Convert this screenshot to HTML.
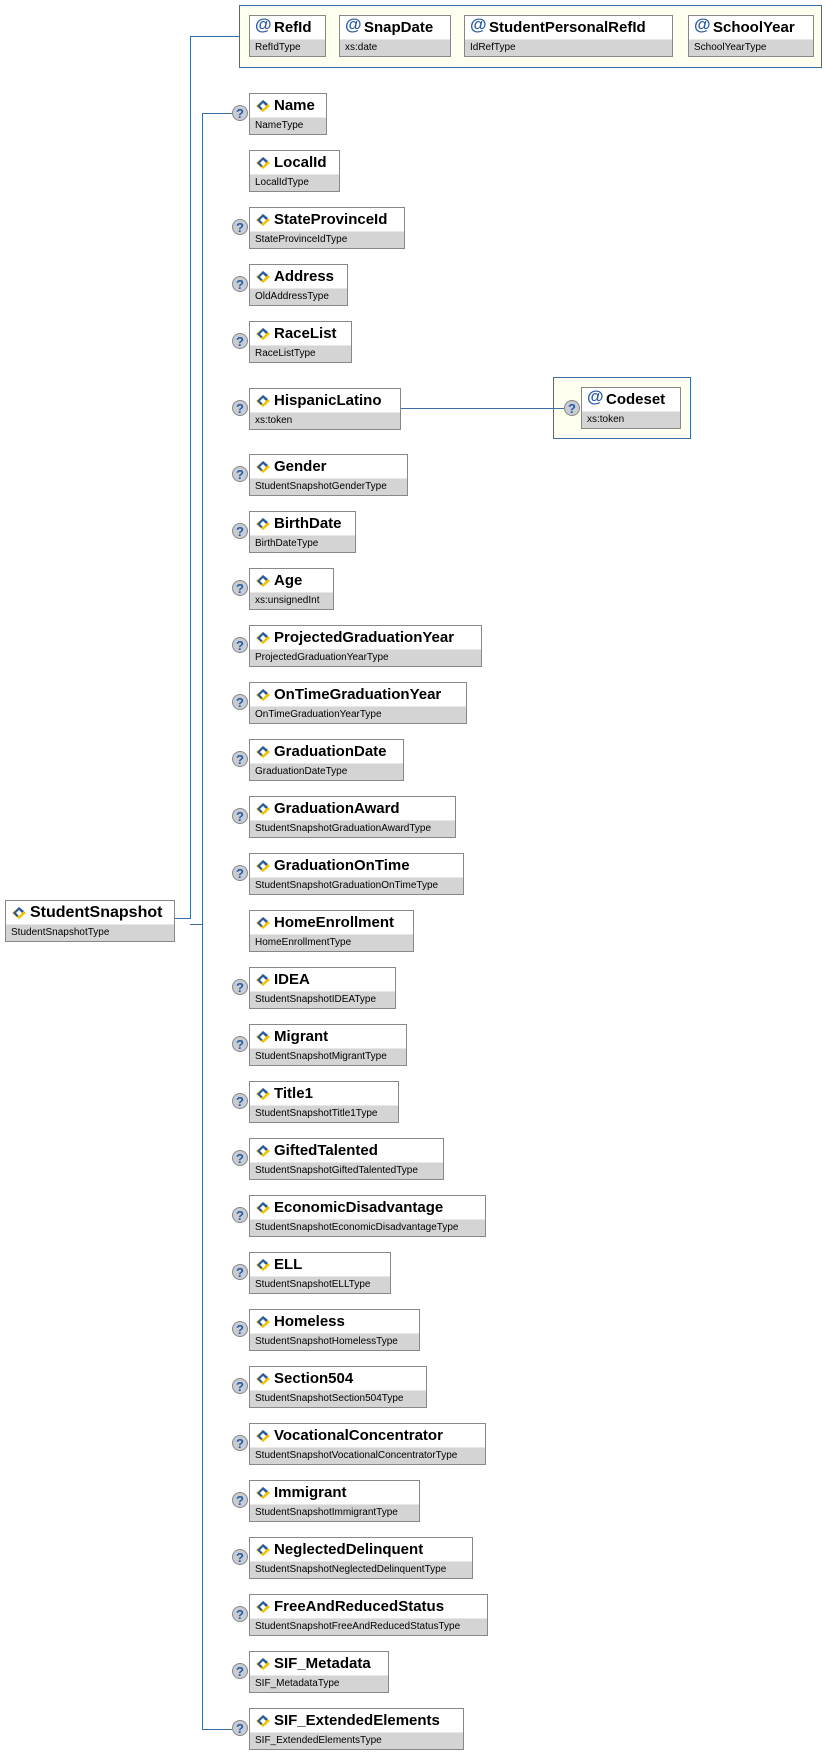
<!DOCTYPE html>
<html><head><meta charset="utf-8"><style>
body{margin:0;width:825px;height:1755px;background:#fff;position:relative;font-family:"Liberation Sans",Arial,sans-serif;overflow:hidden}
.b{position:absolute;height:41px;border:1px solid #888;background:#fff;box-sizing:border-box}
.b .h{height:24px;padding-left:24px;font-weight:bold;font-size:15px;line-height:24px;white-space:nowrap;position:relative}
.b .t{position:absolute;left:0;right:0;bottom:0;height:16px;background:#d4d4d4;font-size:10px;line-height:16px;padding-left:5px;white-space:nowrap;border-top:1px solid #e8e8e8}
.ic{position:absolute;left:6px;top:6px;width:14px;height:12px}
.at{position:absolute;left:5px;top:-3px;color:#2a5aa0;font-size:17px;font-weight:bold}
.q{position:absolute;width:16px;height:16px;border-radius:50%;background:#c8ccd4;border:1px solid #888;box-sizing:border-box;color:#2a5aa0;font-weight:bold;font-size:13px;line-height:15px;text-align:center}
.ln{position:absolute;background:#3a6ea5}
.grp{position:absolute;border:1px solid #3a6ea5;background:#fffff0;box-sizing:border-box}
</style></head><body>
<svg width="0" height="0" style="position:absolute"><defs><g id="ic"><polygon points="7,0 14,6 7,12 0,6" fill="#f2c200"/><polygon points="7,0 12,4 5,10 1,6" fill="#2a5aa0"/><polygon points="7,3 10,6 7,9 4,6" fill="#fff"/></g></defs></svg>

<div class="grp" style="left:239px;top:5px;width:583px;height:63px"></div>
<div class="grp" style="left:553px;top:377px;width:138px;height:62px"></div>

<div class="ln" style="left:175px;top:918px;width:15px;height:1px"></div>
<div class="ln" style="left:190px;top:36px;width:1px;height:883px"></div>
<div class="ln" style="left:190px;top:36px;width:49px;height:1px"></div>
<div class="ln" style="left:190px;top:924px;width:12px;height:1px"></div>
<div class="ln" style="left:202px;top:113px;width:1px;height:1616px"></div>
<div class="ln" style="left:202px;top:113px;width:30px;height:1px"></div>
<div class="ln" style="left:202px;top:1729px;width:30px;height:1px"></div>
<div class="ln" style="left:401px;top:408px;width:163px;height:1px"></div>

<div class="b" style="left:5px;top:900px;width:170px;height:42px"><div class="h" style="font-size:16px"><svg class="ic" viewBox="0 0 14 12"><use href="#ic"/></svg>StudentSnapshot</div><div class="t">StudentSnapshotType</div></div>

<div class="b" style="left:249px;top:15px;width:77px;height:42px"><div class="h"><span class="at">@</span>RefId</div><div class="t">RefIdType</div></div>
<div class="b" style="left:339px;top:15px;width:112px;height:42px"><div class="h"><span class="at">@</span>SnapDate</div><div class="t">xs:date</div></div>
<div class="b" style="left:464px;top:15px;width:209px;height:42px"><div class="h"><span class="at">@</span>StudentPersonalRefId</div><div class="t">IdRefType</div></div>
<div class="b" style="left:688px;top:15px;width:126px;height:42px"><div class="h"><span class="at">@</span>SchoolYear</div><div class="t">SchoolYearType</div></div>
<div class="b" style="left:581px;top:387px;width:100px;height:42px"><div class="h"><span class="at">@</span>Codeset</div><div class="t">xs:token</div></div>
<div class="q" style="left:564px;top:400px">?</div>

<div id="els"></div>
<script>
var E=[["Name","NameType",327,1],["LocalId","LocalIdType",340,0],["StateProvinceId","StateProvinceIdType",405,1],["Address","OldAddressType",348,1],["RaceList","RaceListType",352,1],["HispanicLatino","xs:token",401,1],["Gender","StudentSnapshotGenderType",408,1],["BirthDate","BirthDateType",356,1],["Age","xs:unsignedInt",334,1],["ProjectedGraduationYear","ProjectedGraduationYearType",482,1],["OnTimeGraduationYear","OnTimeGraduationYearType",467,1],["GraduationDate","GraduationDateType",404,1],["GraduationAward","StudentSnapshotGraduationAwardType",456,1],["GraduationOnTime","StudentSnapshotGraduationOnTimeType",464,1],["HomeEnrollment","HomeEnrollmentType",414,0],["IDEA","StudentSnapshotIDEAType",396,1],["Migrant","StudentSnapshotMigrantType",407,1],["Title1","StudentSnapshotTitle1Type",399,1],["GiftedTalented","StudentSnapshotGiftedTalentedType",444,1],["EconomicDisadvantage","StudentSnapshotEconomicDisadvantageType",486,1],["ELL","StudentSnapshotELLType",391,1],["Homeless","StudentSnapshotHomelessType",420,1],["Section504","StudentSnapshotSection504Type",427,1],["VocationalConcentrator","StudentSnapshotVocationalConcentratorType",486,1],["Immigrant","StudentSnapshotImmigrantType",420,1],["NeglectedDelinquent","StudentSnapshotNeglectedDelinquentType",473,1],["FreeAndReducedStatus","StudentSnapshotFreeAndReducedStatusType",488,1],["SIF_Metadata","SIF_MetadataType",389,1],["SIF_ExtendedElements","SIF_ExtendedElementsType",464,1]];
var h="";
E.forEach(function(e,i){var t=i<5?93+57*i:(i==5?388:454+57*(i-6));
h+='<div class="b" style="left:249px;top:'+t+'px;width:'+(e[2]-249)+'px;height:42px"><div class="h"><svg class="ic" viewBox="0 0 14 12"><use href="#ic"/></svg>'+e[0]+'</div><div class="t">'+e[1]+'</div></div>';
if(e[3])h+='<div class="q" style="left:232px;top:'+(t+12)+'px">?</div>';});
document.getElementById("els").innerHTML=h;
</script>
</body></html>
